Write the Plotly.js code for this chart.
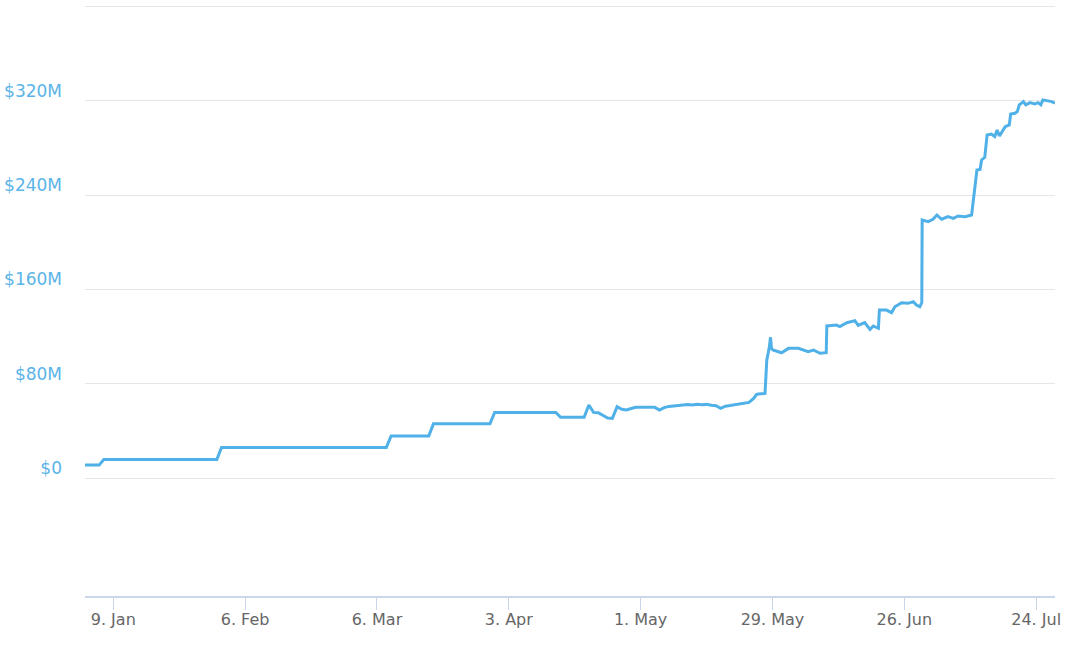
<!DOCTYPE html>
<html>
<head>
<meta charset="utf-8">
<script src="https://cdn.plot.ly/plotly-3.0.1.min.js"></script>
<style>
  html, body { margin: 0; padding: 0; background: #ffffff; }
  #chart { width: 1080px; height: 645px; }
</style>
</head>
<body>
<div id="chart"></div>
<script>
// Dates of the series
var dates = [
  "2023-01-03", "2023-01-06", "2023-01-07", "2023-01-31", "2023-02-01",
  "2023-03-08", "2023-03-09", "2023-03-17", "2023-03-18", "2023-03-30",
  "2023-03-31", "2023-04-13", "2023-04-14", "2023-04-19", "2023-04-20",
  "2023-04-21", "2023-04-22", "2023-04-23", "2023-04-24", "2023-04-25",
  "2023-04-26", "2023-04-27", "2023-04-28", "2023-04-29", "2023-04-30",
  "2023-05-01", "2023-05-02", "2023-05-03", "2023-05-04", "2023-05-05",
  "2023-05-06", "2023-05-07", "2023-05-08", "2023-05-09", "2023-05-10",
  "2023-05-11", "2023-05-12", "2023-05-13", "2023-05-14", "2023-05-15",
  "2023-05-16", "2023-05-17", "2023-05-18", "2023-05-19", "2023-05-20",
  "2023-05-21", "2023-05-22", "2023-05-23", "2023-05-24", "2023-05-25",
  "2023-05-25 14:00", "2023-05-26", "2023-05-27", "2023-05-27 10:00", "2023-05-27 19:00",
  "2023-05-28 07:00", "2023-05-28 14:00", "2023-05-28 19:00", "2023-05-29 02:00", "2023-05-30 22:00",
  "2023-06-01 10:00", "2023-06-03 12:00", "2023-06-05 14:00", "2023-06-06 17:00", "2023-06-08 02:00",
  "2023-06-09 10:00", "2023-06-09 13:00", "2023-06-11 14:00", "2023-06-12 07:00", "2023-06-13 19:00",
  "2023-06-15 12:00", "2023-06-16 05:00", "2023-06-17 14:00", "2023-06-18 17:00", "2023-06-19 10:00",
  "2023-06-20 12:00", "2023-06-20 17:00", "2023-06-22 05:00", "2023-06-23 07:00", "2023-06-24 00:00",
  "2023-06-25 10:00", "2023-06-26 19:00", "2023-06-27 22:00", "2023-06-28 14:00", "2023-06-29 07:00",
  "2023-06-29 17:00", "2023-06-29 19:00", "2023-07-01 02:00", "2023-07-02 02:00", "2023-07-02 22:00",
  "2023-07-03 22:00", "2023-07-05 07:00", "2023-07-06 10:00", "2023-07-07 10:00", "2023-07-08 22:00",
  "2023-07-10 07:00", "2023-07-11 10:00", "2023-07-12 02:00", "2023-07-12 10:00", "2023-07-13 02:00",
  "2023-07-13 14:00", "2023-07-14 12:00", "2023-07-15 05:00", "2023-07-15 17:00", "2023-07-16 05:00",
  "2023-07-16 12:00", "2023-07-17 10:00", "2023-07-18 07:00", "2023-07-18 14:00", "2023-07-19 12:00",
  "2023-07-20 00:00", "2023-07-20 10:00", "2023-07-21 07:00", "2023-07-21 19:00", "2023-07-22 17:00",
  "2023-07-23 17:00", "2023-07-24 10:00", "2023-07-25 00:00", "2023-07-25 10:00", "2023-07-26 05:00",
  "2023-07-27 07:00", "2023-07-28 00:00"
];

// Values in millions of dollars
var valuesM = [
  11, 11, 15.8, 15.8, 26,
  26, 35.7, 35.7, 46, 46,
  55.7, 55.7, 51.5, 51.5, 62,
  55.7, 55.4, 53.5, 51, 50.6,
  60.5, 58.3, 57.7, 59, 60,
  60, 60.2, 60, 60, 57.7,
  59.8, 60.8, 61.3, 61.6, 62,
  62.4, 62, 62.6, 62.2, 62.5,
  61.8, 61.4, 59.1, 61, 61.5,
  62.2, 62.8, 63.4, 64.2, 67.5,
  70.8, 71.3, 71.5, 71.8, 100,
  110, 119.4, 110, 108.6, 106.3,
  110, 110, 107.2, 108.6, 105.8,
  106.3, 129, 129.8, 128.5, 131.8,
  133.5, 129.5, 131.8, 126, 129,
  127, 142.5, 142.5, 140.3, 145.3,
  148.7, 148.2, 149.6, 146.8, 145.3,
  148.7, 218.9, 217.5, 219.5, 223.1,
  219.5, 221.7, 220.3, 222.3, 221.7,
  223.1, 261.3, 261.8, 269.8, 272,
  291, 291.8, 289.6, 295.2, 290.1,
  292.3, 298, 299.5, 308.8, 309.4,
  310.8, 316.5, 319.3, 316.5, 318.4,
  317.3, 318.4, 316.5, 320.7, 320.1,
  319.3, 317.9
];

// Axis ticks
var yTickVals = [0, 80, 160, 240, 320, 400];
var yTickText = ["$0", "$80M", "$160M", "$240M", "$320M", ""];
var xTickVals = ["2023-01-09", "2023-02-06", "2023-03-06", "2023-04-03", "2023-05-01", "2023-05-29", "2023-06-26", "2023-07-24"];
var xTickText = ["9. Jan", "6. Feb", "6. Mar", "3. Apr", "1. May", "29. May", "26. Jun", "24. Jul"];

var trace = {
  x: dates,
  y: valuesM,
  type: "scatter",
  mode: "lines",
  line: { color: "#4fb1e7", width: 3 },
  hoverinfo: "skip"
};

var layout = {
  width: 1080,
  height: 645,
  margin: { l: 85, r: 25, t: 5, b: 49 },
  paper_bgcolor: "#ffffff",
  plot_bgcolor: "#ffffff",
  showlegend: false,
  font: { family: "DejaVu Sans, sans-serif" },
  xaxis: {
    type: "date",
    range: ["2023-01-03", "2023-07-28"],
    tickmode: "array",
    tickvals: xTickVals,
    ticktext: xTickText,
    showgrid: false,
    zeroline: false,
    showline: true,
    linecolor: "#ccd6eb",
    linewidth: 2,
    ticks: "outside",
    ticklen: 12,
    tickwidth: 1,
    tickcolor: "#ccd6eb",
    ticklabelstandoff: -4,
    tickfont: { family: "DejaVu Sans, sans-serif", size: 16, color: "#666666" },
    fixedrange: true
  },
  yaxis: {
    range: [-100, 401.2],
    tickmode: "array",
    tickvals: yTickVals,
    ticktext: yTickText,
    showgrid: true,
    gridcolor: "#e6e6e6",
    gridwidth: 1,
    zeroline: false,
    showline: false,
    ticks: "",
    ticklabelstandoff: 22,
    ticklabelshift: -10,
    tickfont: { family: "DejaVu Sans, sans-serif", size: 17, color: "#5ab4e8" },
    fixedrange: true
  }
};

Plotly.newPlot("chart", [trace], layout, { displayModeBar: false, staticPlot: true });
</script>
</body>
</html>
